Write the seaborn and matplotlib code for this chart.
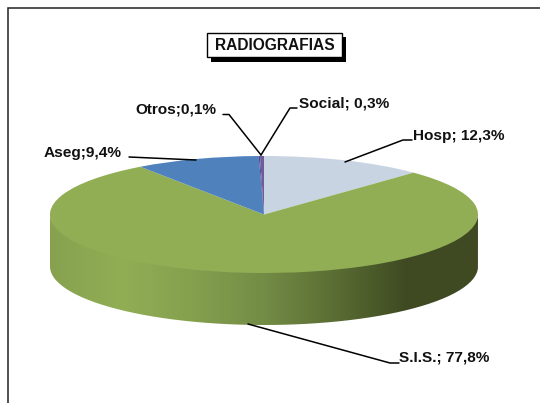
import numpy as np
import matplotlib
matplotlib.use('Agg')
import matplotlib.pyplot as plt
from matplotlib.path import Path
from matplotlib.patches import PathPatch, Rectangle
import seaborn as sns

# Data
names = ['Hosp', 'S.I.S.', 'Aseg', 'Otros', 'Social']
values = [12.3, 77.8, 9.4, 0.1, 0.3]
labels = ['Hosp; 12,3%', 'S.I.S.; 77,8%', 'Aseg;9,4%', 'Otros;0,1%', 'Social; 0,3%']
colors = ['#C9D4E3', '#91AE55', '#4F81BD', '#4F4488', '#6F5C9C']
side_colors = ['#86A24F', '#91AE55', '#85A04E', '#738C46', '#5A6D33', '#3F4A22', '#3F4A22']

sns.set_theme(style='white')
plt.rcParams['font.family'] = ['Liberation Sans', 'DejaVu Sans']

W, H = 540, 403
fig = plt.figure(figsize=(W / 100, H / 100), dpi=100)

# Overlay axes in pixel coordinates for frame, title, leaders
bg = fig.add_axes([0, 0, 1, 1], zorder=1)
bg.set_xlim(0, W)
bg.set_ylim(H, 0)
bg.axis('off')

# Pie geometry
cx, cy, rx, ry, depth = 264, 214.5, 214, 58.5, 52

# Side wall of the pie with a horizontal gradient
t = np.linspace(np.pi, 2 * np.pi, 120)
ex = cx + rx * np.cos(t)
ey = cy - ry * np.sin(t)
verts = np.r_[np.c_[ex, ey - 1], np.c_[ex[::-1], ey[::-1] + depth]]
verts = np.r_[verts, verts[:1]]
clip = PathPatch(Path(verts), transform=bg.transData, fc='none', ec='none')
bg.add_patch(clip)
grad = sns.blend_palette(side_colors, n_colors=256, as_cmap=True)
img = bg.imshow(np.linspace(0, 1, 256)[None, :], cmap=grad, aspect='auto',
                extent=(cx - rx, cx + rx, cy + ry + depth, cy - 1))
img.set_clip_path(clip)
bg.set_xlim(0, W)
bg.set_ylim(H, 0)

# Frame lines (left and top only)
bg.plot([8, 8, W], [H, 8, 8], color='#222222', lw=1.1, solid_joinstyle='miter')

# Top face of the pie
ax = fig.add_axes([(cx - rx) / W, 1 - (cy + ry) / H, 2 * rx / W, 2 * ry / H], zorder=2)
ax.pie(values, colors=colors, startangle=90, counterclock=False, radius=1,
       wedgeprops={'linewidth': 0})
ax.set_aspect('auto')
ax.set_xlim(-1, 1)
ax.set_ylim(-1, 1)
ax.axis('off')

# Leaders and labels on top
top = fig.add_axes([0, 0, 1, 1], zorder=3)
top.set_xlim(0, W)
top.set_ylim(H, 0)
top.axis('off')
top.patch.set_alpha(0)

leaders = {
    'Hosp': ([345, 403, 412], [162, 140, 140]),
    'S.I.S.': ([248, 390, 399], [324, 363, 363]),
    'Aseg': ([196, 129], [160, 157]),
    'Otros': ([261, 229, 223], [155, 114.5, 114.5]),
    'Social': ([261, 290, 297], [155, 108, 108]),
}
label_pos = {
    'Hosp': (413, 136),
    'S.I.S.': (399, 358),
    'Aseg': (44, 153),
    'Otros': (135, 110),
    'Social': (299, 104),
}
for name, lab in zip(names, labels):
    lx, ly = leaders[name]
    top.plot(lx, ly, color='black', lw=1.1)
    top.text(*label_pos[name], lab, fontsize=11.1, fontweight='bold',
             color='#111111', ha='left', va='center')

# Title box with hard shadow
top.add_patch(Rectangle((211, 37), 135, 25, fc='black', ec='black', lw=0))
top.add_patch(Rectangle((207, 33), 135, 24, fc='white', ec='black', lw=1))
top.text(274.5, 45.5, 'RADIOGRAFIAS', fontsize=11.2, fontweight='bold',
         color='#111111', ha='center', va='center')

plt.savefig('out.png', dpi=100)
plt.close()
